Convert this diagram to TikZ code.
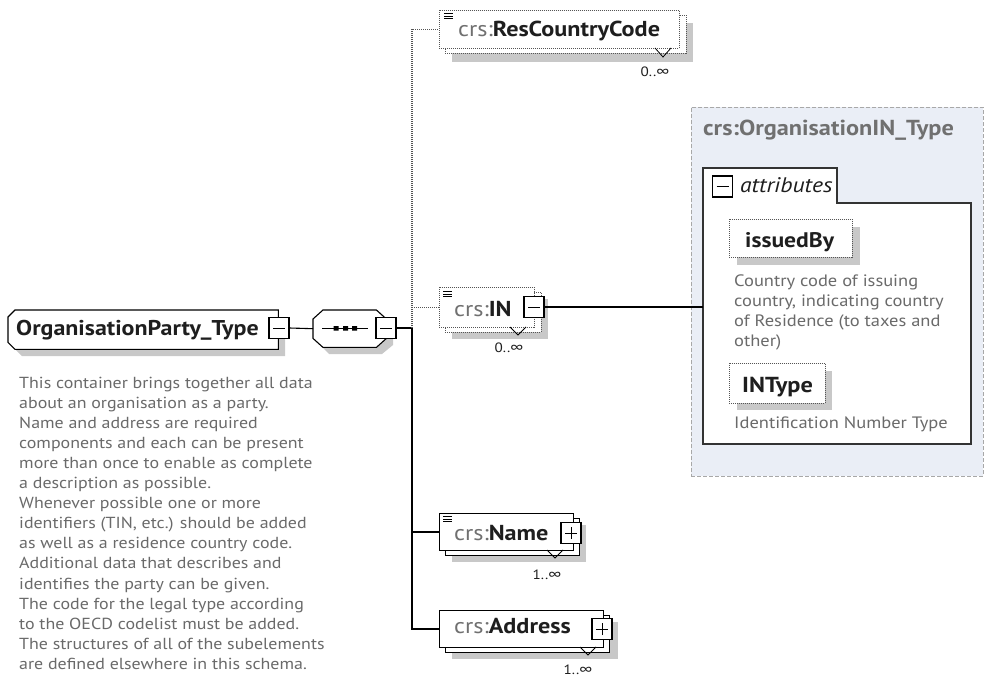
\documentclass[tikz,border=0pt]{standalone}
\usepackage{fontspec}
\setmainfont{PT Sans}[FakeStretch=1.12]
\usetikzlibrary{calc}
\definecolor{txtgray}{HTML}{6A6A6A}
\definecolor{pfxgray}{HTML}{707070}
\definecolor{nmblack}{HTML}{1E1E1E}
\definecolor{shadowgray}{HTML}{C8C8C8}
\definecolor{panelfill}{HTML}{EAEEF6}
\definecolor{panelline}{HTML}{A8A8A8}
\definecolor{dotgray}{HTML}{555555}
\definecolor{attline}{HTML}{333333}
\tikzset{
  conn/.style={line width=1.1pt, draw=black},
  optconn/.style={line width=1.1pt, draw=dotgray, dash pattern=on 1pt off 1pt},
  shadowbox/.style={fill=shadowgray, draw=none},
  optbox/.style={draw=dotgray, fill=white, line width=0.9pt, dash pattern=on 1pt off 1pt},
  reqbox/.style={draw=black, fill=white, line width=1pt},
  elnode/.style={anchor=north west, inner sep=0, minimum height=#1},
  pmbox/.style={draw=black, fill=white, line width=1.1pt, minimum width=20, minimum height=21, inner sep=0},
  minusbox/.style={pmbox, path picture={\draw[line width=0.8pt] ([xshift=-6pt]path picture bounding box.center) -- ([xshift=6pt]path picture bounding box.center);}},
  plusbox/.style={pmbox, path picture={\draw[line width=0.8pt] ([xshift=-6pt]path picture bounding box.center) -- ([xshift=6pt]path picture bounding box.center) ([yshift=-6pt]path picture bounding box.center) -- ([yshift=6pt]path picture bounding box.center);}},
  nametxt/.style={anchor=base west, inner sep=0, font=\fontsize{21.6}{24}\selectfont},
  multtxt/.style={inner sep=0, font=\fontsize{13.5}{16}\selectfont, text=nmblack},
  desctxt/.style={anchor=north west, inner sep=0, align=left, text=txtgray, font=\fontsize{16}{20.1}\selectfont},
  pdesctxt/.style={desctxt, font=\fontsize{16.5}{20}\selectfont},
  notch/.style={line width=0.8pt, draw=black},
  menuicon/.style={line width=0.8pt, draw=black},
}
\newcommand{\pfx}[1]{\textcolor{pfxgray}{#1}}
\newcommand{\nm}[1]{\textcolor{nmblack}{\bfseries #1}}
\begin{document}
\begin{tikzpicture}[x=1pt,y=-1pt]
\useasboundingbox (0,0) rectangle (985,677);
\fill[white] (0,0) rectangle (985,677);

% ---------- right panel: crs:OrganisationIN_Type ----------
\node[draw=panelline, fill=panelfill, dash pattern=on 4pt off 2pt, line width=0.8pt,
      anchor=north west, minimum width=292, minimum height=369, inner sep=0] (panel) at (691,107) {};
\node[anchor=base west, inner sep=0, text=pfxgray, font=\fontsize{21.7}{24}\selectfont\bfseries] (ptitle) at (703,135) {crs:OrganisationIN\_Type};
\draw[draw=attline, fill=white, line width=1.2pt] (703,444) -- (703,168) -- (837,168) -- (837,203) -- (971,203) -- (971,444) -- cycle;
\node[anchor=north west, inner sep=0, minimum width=268, minimum height=276] (attbox) at (703,168) {};
\node[minusbox] (attminus) at (722.5,186.5) {};
\node[anchor=base west, inner sep=0, font=\fontsize{21.1}{24}\selectfont\itshape, text=nmblack] (attlbl) at (740,192) {attributes};

\fill[shadowgray] (737,227) rectangle (860,265);
\node[optbox, anchor=north west, minimum width=123, minimum height=38] (issued) at (729,219) {};
\node[nametxt, font=\fontsize{21.1}{24}\selectfont] (issuedtxt) at (745,247) {\nm{issuedBy}};
\node[pdesctxt] (issueddesc) at (734,274.5) {Country code of issuing\\country, indicating country\\of Residence (to taxes and\\other)};

\fill[shadowgray] (737,371) rectangle (832,410);
\node[optbox, anchor=north west, minimum width=96, minimum height=40] (intype) at (729,363) {};
\node[nametxt, font=\fontsize{21.7}{24}\selectfont] (intypetxt) at (742,392) {\nm{INType}};
\node[pdesctxt] (intypedesc) at (734,416.5) {Identification Number Type};

% ---------- main type ----------
\fill[shadowgray] (22,317) -- (285,317) -- (285,356) -- (22,356) -- (15,349) -- (15,324) -- cycle;
\node[anchor=north west, inner sep=0, minimum width=270, minimum height=39] (ptype) at (8,310) {};
\draw[draw=black, fill=white, line width=1.1pt] ($(ptype.north west)+(7,0)$) -- (ptype.north east) -- (ptype.south east) -- ($(ptype.south west)+(7,0)$) -- ($(ptype.south west)+(0,-7)$) -- ($(ptype.north west)+(0,7)$) -- cycle;
\node[anchor=base west, inner sep=0, font=\fontsize{21.4}{26}\selectfont] (ptypetxt) at (16,335) {\nm{OrganisationParty\_Type}};
\node[minusbox] (pminus) at (279,328) {};
\node[desctxt] (pdesc) at (19,376.5) {This container brings together all data\\about an organisation as a party.\\Name and address are required\\components and each can be present\\more than once to enable as complete\\a description as possible.\\Whenever possible one or more\\identifiers (TIN, etc.) should be added\\as well as a residence country code.\\Additional data that describes and\\identifies the party can be given.\\The code for the legal type according\\to the OECD codelist must be added.\\The structures of all of the subelements\\are defined elsewhere in this schema.};

% ---------- sequence ----------
\fill[shadowgray] (329,317) -- (382,317) -- (393,326) -- (393,345) -- (382,354) -- (329,354) -- (320,345) -- (320,326) -- cycle;
\node[anchor=north west, inner sep=0, minimum width=73, minimum height=37] (seq) at (313,310) {};
\draw[draw=black, fill=white, line width=1.1pt] ($(seq.north west)+(10,0)$) -- ($(seq.north east)+(-10,0)$) -- ($(seq.north east)+(0,9)$) -- ($(seq.south east)+(0,-9)$) -- ($(seq.south east)+(-10,0)$) -- ($(seq.south west)+(10,0)$) -- ($(seq.south west)+(0,-9)$) -- ($(seq.north west)+(0,9)$) -- cycle;
\draw[line width=1pt] (322,328) -- (368,328);
\fill[black] (333.5,326) rectangle (338.5,330.5) (343,326) rectangle (348,330.5) (352,326) rectangle (357,330.5);
\node[minusbox] (sminus) at (386,328) {};

\draw[conn] (pminus.east) -- (seq.west);
\coordinate (spine) at (412,328);
\draw[conn] (sminus.east) -- (spine);

% ---------- crs:ResCountryCode ----------
\fill[shadowgray] (452,23) rectangle (693,62);
\draw[optbox] (445,15) rectangle (686,53);
\node[optbox, elnode=38, minimum width=240] (rcc) at (439,10) {};
\draw[notch] (655,48) -- (663,57) -- (671,48);
\draw[menuicon] (444,13.5) -- (453,13.5) (444,16) -- (453,16) (444,18.5) -- (453,18.5);
\node[nametxt] (rcctxt) at (458,37) {\pfx{crs:}\nm{ResCountryCode}};
\node[multtxt] (rccmult) at (655,72) {0..∞};

% ---------- crs:IN ----------
\fill[shadowgray] (452,299) rectangle (548,339);
\draw[optbox] (445,292) rectangle (541,332);
\node[optbox, elnode=40, minimum width=95] (inel) at (439,287) {};
\draw[notch] (510,327) -- (518,335) -- (526,327);
\draw[menuicon] (443,291.5) -- (452,291.5) (443,294) -- (452,294) (443,296.5) -- (452,296.5);
\node[nametxt] (intxt) at (454,316) {\pfx{crs:}\nm{IN}};
\node[minusbox] (inminus) at (534,307) {};
\node[multtxt] (inmult) at (509,348) {0..∞};

% ---------- crs:Name ----------
\fill[shadowgray] (452,525) rectangle (586,562);
\draw[reqbox] (445,518) rectangle (579,555);
\node[reqbox, elnode=37, minimum width=134] (nameel) at (439,513) {};
\draw[notch] (547,550) -- (555,558) -- (563,550);
\draw[menuicon] (443,516.5) -- (452,516.5) (443,519) -- (452,519) (443,521.5) -- (452,521.5);
\node[nametxt] (nametxt) at (454,540) {\pfx{crs:}\nm{Name}};
\node[plusbox] (nameplus) at (571,533) {};
\node[multtxt] (namemult) at (547,575) {1..∞};

% ---------- crs:Address ----------
\fill[shadowgray] (452,622) rectangle (618,659);
\draw[reqbox] (445,615) rectangle (609,652);
\node[reqbox, elnode=37, minimum width=164] (addrel) at (439,610) {};
\draw[notch] (580,647) -- (588,655) -- (596,647);
\node[nametxt] (addrtxt) at (454,633) {\pfx{crs:}\nm{Address}};
\node[plusbox] (addrplus) at (602,629) {};
\node[multtxt] (addrmult) at (578,670) {1..∞};

% ---------- connectors ----------
\draw[optconn] (spine) |- (rcc.west);
\draw[optconn] (spine |- inel.west) -- (inel.west);
\draw[conn] (spine) |- (addrel.west);
\draw[conn] (spine |- nameel.west) -- (nameel.west);
\draw[conn] (inminus.east) -- (attbox.west |- inminus.east);
\end{tikzpicture}
\end{document}
